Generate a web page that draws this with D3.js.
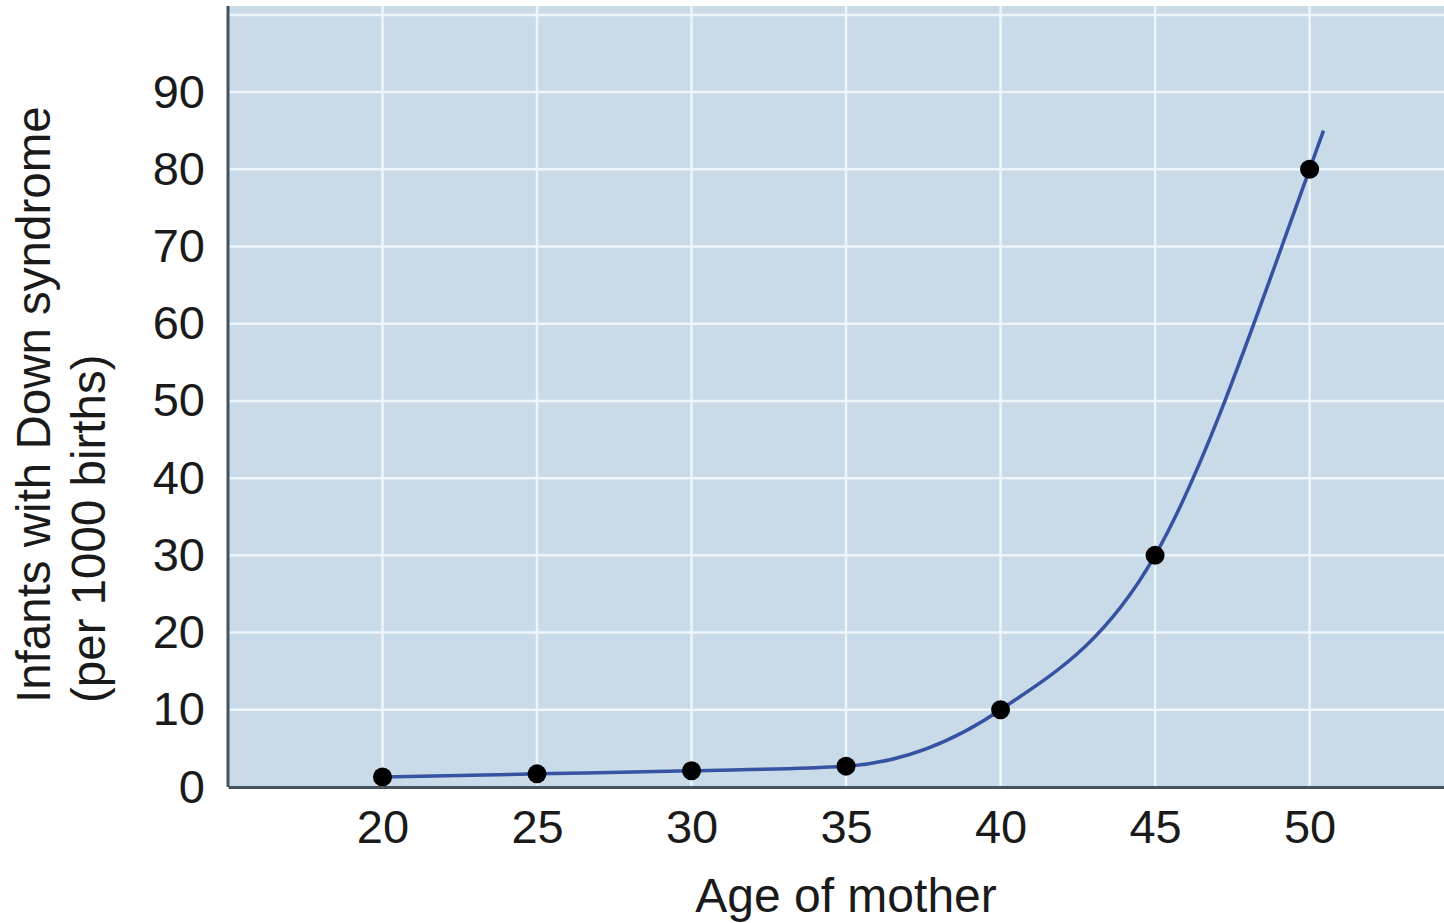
<!DOCTYPE html>
<html>
<head>
  <script src="https://cdn.jsdelivr.net/npm/d3@7"></script>
  <style>
    body { margin: 0; background: #ffffff; }
    svg { display: block; font-family: "Liberation Sans", Arial, sans-serif; }
  </style>
</head>
<body>
<script>
  // Data
  const ages = [20, 25, 30, 35, 40, 45, 50];
  const rates = [1.3, 1.7, 2.1, 2.7, 10, 30, 80];
  // the drawn curve runs a little past the last point
  const curveAges = [20, 25, 30, 35, 40, 45, 50, 50.45];
  const curveRates = [1.3, 1.7, 2.1, 2.7, 10, 30, 80, 85];
  const xTicks = [20, 25, 30, 35, 40, 45, 50];
  const yTicks = [0, 10, 20, 30, 40, 50, 60, 70, 80, 90];
  const yGrid = [10, 20, 30, 40, 50, 60, 70, 80, 90, 100];

  const w = 1444, h = 923;
  const plotLeft = 228, plotRight = 1444, plotTop = 6, plotBottom = 787;

  const x = d3.scaleLinear().domain([15, 54.35]).range([plotLeft, plotRight]);
  const y = d3.scaleLinear().domain([0, 101.15]).range([plotBottom, plotTop]);

  const svg = d3.select("body").append("svg")
    .attr("width", w)
    .attr("height", h);

  // Plot background
  svg.append("rect")
    .attr("x", plotLeft).attr("y", plotTop)
    .attr("width", plotRight - plotLeft).attr("height", plotBottom - plotTop)
    .attr("fill", "#c9dae8");

  // Gridlines
  svg.selectAll("line.hgrid")
    .data(yGrid)
    .enter().append("line")
    .attr("class", "hgrid")
    .attr("x1", plotLeft).attr("x2", plotRight)
    .attr("y1", d => y(d)).attr("y2", d => y(d))
    .attr("stroke", "#eef5fb").attr("stroke-width", 2.5);

  svg.selectAll("line.vgrid")
    .data(xTicks)
    .enter().append("line")
    .attr("class", "vgrid")
    .attr("x1", d => x(d)).attr("x2", d => x(d))
    .attr("y1", plotTop).attr("y2", plotBottom)
    .attr("stroke", "#eef5fb").attr("stroke-width", 2.5);

  // Curve
  const line = d3.line()
    .x((d, i) => x(curveAges[i]))
    .y(d => y(d))
    .curve(d3.curveMonotoneX);

  svg.append("path")
    .datum(curveRates)
    .attr("d", line)
    .attr("fill", "none")
    .attr("stroke", "#3652a0")
    .attr("stroke-width", 3.5);

  // Points
  svg.selectAll("circle")
    .data(rates)
    .enter().append("circle")
    .attr("cx", (d, i) => x(ages[i]))
    .attr("cy", d => y(d))
    .attr("r", 9.5)
    .attr("fill", "#000000");

  // Axes
  const xAxis = d3.axisBottom(x).tickValues(xTicks).tickSize(0).tickPadding(23);
  const gx = svg.append("g")
    .attr("transform", `translate(0,${plotBottom})`)
    .call(xAxis);
  gx.select(".domain").attr("stroke", "#46525c").attr("stroke-width", 3);
  gx.selectAll("text").attr("font-size", 47).attr("fill", "#1a1a1a");

  const yAxis = d3.axisLeft(y).tickValues(yTicks).tickSize(0).tickPadding(23);
  const gy = svg.append("g")
    .attr("transform", `translate(${plotLeft},0)`)
    .call(yAxis);
  gy.select(".domain").attr("stroke", "#46525c").attr("stroke-width", 3)
    .attr("d", `M0,${plotTop}V${plotBottom}`);
  gy.selectAll("text").attr("font-size", 47).attr("fill", "#1a1a1a");

  // Axis titles
  svg.append("text")
    .attr("x", 846).attr("y", 912)
    .attr("text-anchor", "middle")
    .attr("font-size", 48)
    .attr("fill", "#1a1a1a")
    .text("Age of mother");

  const yl = svg.append("text")
    .attr("transform", "translate(50,703) rotate(-90)")
    .attr("text-anchor", "start")
    .attr("font-size", 47.5)
    .attr("fill", "#1a1a1a");
  yl.append("tspan").attr("x", 0).attr("dy", 0).text("Infants with Down syndrome");
  yl.append("tspan").attr("x", 0).attr("dy", 55).text("(per 1000 births)");
</script>
</body>
</html>
